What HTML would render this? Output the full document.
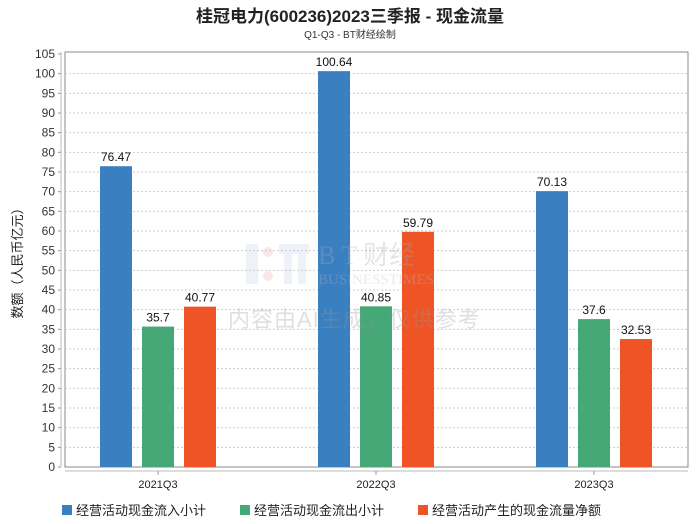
<!DOCTYPE html>
<html><head><meta charset="utf-8"><style>
body{margin:0;background:#fff;}
svg{display:block;font-family:"Liberation Sans","Noto Sans CJK SC",sans-serif;}
</style></head><body>
<svg id="chart" width="700" height="524">
<text x="350" y="22" text-anchor="middle" font-size="17" font-weight="bold" fill="#222">桂冠电力(600236)2023三季报 - 现金流量</text>
<text x="350" y="38" text-anchor="middle" font-size="10" fill="#333">Q1-Q3 - BT财经绘制</text>
<g id="grid"></g>
<g id="bars"></g>
<g id="labels"></g>
<g id="watermark" opacity="0.3">
<rect x="246" y="244" width="12" height="40" fill="#c8d4e6"/>
<circle cx="268" cy="252" r="5" fill="#f0b0b0"/><circle cx="268" cy="276" r="5" fill="#f0b0b0"/>
<rect x="279" y="244" width="30" height="10" fill="#c8d4e6"/><rect x="284" y="254" width="8" height="30" fill="#c8d4e6"/><rect x="298" y="254" width="8" height="30" fill="#c8d4e6"/>
<text x="318" y="264" font-family="Liberation Serif,serif" font-size="26" fill="#aaa">B T 财经</text>
<text x="318" y="284" font-family="Liberation Serif,serif" font-size="15" fill="#bbb">BUSINESSTIMES</text>
<text x="228" y="327" font-size="22" fill="#999" letter-spacing="1">内容由AI生成，仅供参考</text>
</g>
<text transform="translate(22,260) rotate(-90)" text-anchor="middle" font-size="13" fill="#222">数额（人民币亿元）</text>
<g id="legend" font-size="13" fill="#222">
<rect x="62" y="505" width="10" height="10" fill="#3a7fc0"/>
<text x="76" y="515">经营活动现金流入小计</text>
<rect x="240" y="505" width="10" height="10" fill="#45a876"/>
<text x="254" y="515">经营活动现金流出小计</text>
<rect x="418" y="505" width="10" height="10" fill="#ef5427"/>
<text x="432" y="515">经营活动产生的现金流量净额</text>
</g>
</svg>
<script>
const categories = ["2021Q3","2022Q3","2023Q3"];
const inflow = [76.47,100.64,70.13];
const outflow = [35.7,40.85,37.6];
const net = [40.77,59.79,32.53];
const yTicks = [0,5,10,15,20,25,30,35,40,45,50,55,60,65,70,75,80,85,90,95,100,105];

const NS="http://www.w3.org/2000/svg";
const L=65,R=688,T=54,B=467;
function y(v){return B-(v/105)*(B-T);}
function gx(i){return 158+i*218;}
function mk(tag,attrs,parent){const e=document.createElementNS(NS,tag);for(const k in attrs)e.setAttribute(k,attrs[k]);parent.appendChild(e);return e;}
const grid=document.getElementById('grid');
mk('rect',{x:L,y:T-2,width:R-L,height:B-T+2,fill:'none',stroke:'#888','stroke-width':1},grid);
mk('line',{x1:61,y1:T-2,x2:61,y2:B,stroke:'#bbb'},grid);
mk('line',{x1:L,y1:471,x2:R,y2:471,stroke:'#bbb'},grid);
yTicks.forEach(t=>{
  if(t>0&&t<105){const l=mk('line',{x1:L,y1:y(t),x2:R,y2:y(t),stroke:'#ccc','stroke-dasharray':'2,2'},grid);
  
  }
  mk('line',{x1:58,y1:y(t),x2:61,y2:y(t),stroke:'#999'},grid);
  const tx=mk('text',{x:55,y:y(t)+4,'text-anchor':'end','font-size':12,fill:'#333'},grid);
  tx.textContent=t;
  
  
});
const bars=document.getElementById('bars'),labels=document.getElementById('labels');
const series=[[inflow,'#3a7fc0','inflow'],[outflow,'#45a876','outflow'],[net,'#ef5427','net']];
categories.forEach((c,i)=>{
  const cx=gx(i);
  mk('line',{x1:cx,y1:471,x2:cx,y2:475,stroke:'#999'},grid);
  const ct=mk('text',{x:cx,y:488,'text-anchor':'middle','font-size':11,fill:'#222'},labels);
  ct.textContent=c;
  
  
  series.forEach((s,j)=>{
    const v=s[0][i],bx=cx+(j-1)*42-16;
    const r=mk('rect',{x:bx,y:y(v),width:32,height:B-y(v),fill:s[1]},bars);
    
    
    const t=mk('text',{x:bx+16,y:y(v)-5,'text-anchor':'middle','font-size':12,fill:'#111'},labels);
    t.textContent=v;
    
    
  });
});
</script>
</body></html>
